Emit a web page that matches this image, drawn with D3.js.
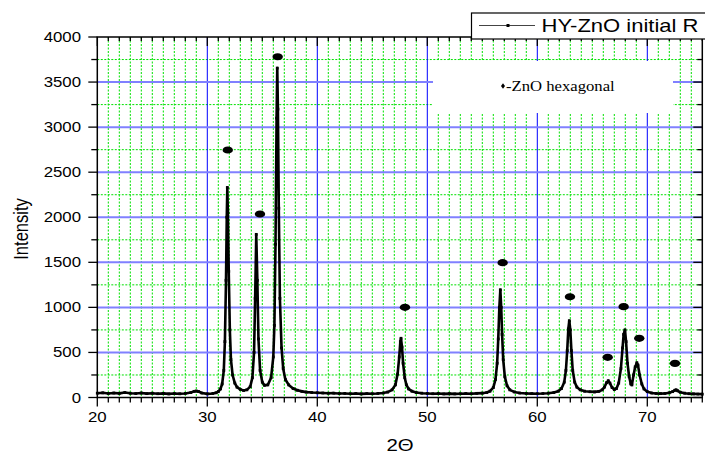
<!DOCTYPE html>
<html lang="en">
<head>
  <meta charset="UTF-8">
  <title>HY-ZnO initial R</title>
  <script src='https://d3js.org/d3.v7.min.js'></script>
  <style>
    body { margin: 0; background: #fff; }
    text { font-family: Arial, "Liberation Sans", sans-serif; fill: #000; }
  </style>
</head>
<body>
<script>
  // XRD pattern (2 theta, intensity)
  const twoTheta = [
    20.0, 20.5, 21.0, 21.5, 22.0, 22.5, 23.0, 23.5, 24.0, 24.5, 25.0, 25.5, 26.0, 26.5, 27.0, 27.5,
    28.0, 28.5, 28.8, 29.0, 29.2, 29.5, 30.0, 30.5, 30.8, 31.0, 31.2, 31.35, 31.5, 31.6, 31.7, 31.77,
    31.82, 31.87, 31.95, 32.05, 32.15, 32.3, 32.5, 32.7, 33.0, 33.3, 33.6, 33.9, 34.1, 34.25, 34.35, 34.45,
    34.55, 34.65, 34.8, 35.0, 35.2, 35.5, 35.8, 36.0, 36.1, 36.2, 36.3, 36.36, 36.42, 36.5, 36.6, 36.75,
    36.9, 37.1, 37.4, 37.8, 38.2, 38.6, 39.0, 39.5, 40.0, 40.5, 41.0, 41.5, 42.0, 42.5, 43.0, 43.5,
    44.0, 44.5, 45.0, 45.5, 46.0, 46.4, 46.8, 47.1, 47.3, 47.45, 47.55, 47.61, 47.7, 47.8, 47.95, 48.1,
    48.3, 48.6, 49.0, 49.5, 50.0, 50.5, 51.0, 51.5, 52.0, 52.5, 53.0, 53.5, 54.0, 54.5, 55.0, 55.4,
    55.7, 56.0, 56.2, 56.35, 56.45, 56.55, 56.64, 56.72, 56.8, 56.9, 57.05, 57.25, 57.5, 57.9, 58.4, 59.0,
    59.5, 60.0, 60.5, 61.0, 61.5, 61.9, 62.2, 62.45, 62.6, 62.72, 62.82, 62.91, 63.0, 63.1, 63.22, 63.4,
    63.6, 63.9, 64.3, 64.8, 65.2, 65.6, 65.9, 66.1, 66.3, 66.45, 66.6, 66.8, 67.0, 67.2, 67.4, 67.6,
    67.75, 67.85, 67.97, 68.07, 68.2, 68.35, 68.5, 68.6, 68.75, 68.9, 69.05, 69.15, 69.3, 69.5, 69.7, 70.0,
    70.4, 70.8, 71.2, 71.6, 72.0, 72.3, 72.5, 72.62, 72.75, 73.0, 73.4, 73.8, 74.2, 74.6, 75.0
  ];
  const intensity = [
    48, 52, 45, 50, 46, 55, 47, 44, 50, 43, 48, 42, 46, 40, 44, 41,
    45, 55, 68, 72, 66, 50, 40, 45, 52, 65, 95, 150, 300, 620, 1300, 2000,
    2330, 2050, 1400, 750, 420, 250, 160, 115, 90, 78, 85, 120, 220, 500, 1100, 1810,
    1300, 650, 300, 170, 135, 140, 220, 450, 800, 1700, 3100, 3655, 3200, 2100, 1100, 550,
    320, 200, 140, 100, 80, 68, 60, 55, 52, 50, 47, 48, 44, 45, 42, 44,
    40, 43, 42, 45, 50, 60, 85, 140, 260, 450, 620, 657, 560, 380, 220, 140,
    95, 70, 55, 48, 45, 42, 44, 40, 43, 40, 42, 44, 42, 46, 48, 55,
    70, 110, 200, 380, 650, 1000, 1195, 1000, 700, 420, 230, 130, 85, 62, 50, 45,
    43, 42, 44, 48, 55, 70, 100, 170, 300, 520, 760, 852, 750, 520, 300, 170,
    115, 85, 70, 64, 62, 68, 85, 115, 165, 186, 160, 110, 88, 100, 160, 320,
    550, 700, 750, 620, 380, 230, 150, 140, 250, 340, 386, 360, 250, 150, 95, 65,
    50, 45, 43, 45, 52, 65, 80, 85, 75, 58, 48, 42, 40, 38, 37
  ];

  // peak markers (ZnO hexagonal)
  const markX = [31.86, 34.79, 36.4, 47.97, 56.85, 62.97, 66.4, 67.85, 69.27, 72.52];
  const markY = [2746, 2036, 3781, 1001, 1496, 1118, 446, 1008, 657, 379];

  const xMajor = [20, 30, 40, 50, 60, 70];
  const yMajor = [0, 500, 1000, 1500, 2000, 2500, 3000, 3500, 4000];
  const xMinor = d3.range(20, 76, 1);
  const yMinor = d3.range(0, 4001, 250);

  const seriesName = "HY-ZnO initial R";
  const noteText = "-ZnO hexagonal";

  const width = 705, height = 455;
  const sx = 1.2; // the text in the picture is stretched sideways

  const x = d3.scaleLinear().domain([20, 75]).range([97.3, 702.3]);
  const y = d3.scaleLinear().domain([0, 4000]).range([397.5, 37]);

  const svg = d3.select("body").append("svg")
    .attr("width", width)
    .attr("height", height);

  function label(px, py, txt, size, anchor, scale, extra) {
    return svg.append("text")
      .attr("transform", "translate(" + px + "," + py + ") scale(" + scale + ",1)" + (extra || ""))
      .attr("text-anchor", anchor)
      .attr("font-size", size)
      .text(txt);
  }

  // minor grid (green dotted)
  svg.append("g").selectAll("line")
    .data(xMinor.filter(d => d % 10 !== 0 && d < 75))
    .join("line")
    .attr("x1", d => x(d)).attr("x2", d => x(d))
    .attr("y1", y(4000)).attr("y2", y(0))
    .attr("stroke", "#00e000").attr("stroke-width", 1)
    .attr("stroke-dasharray", "2,1.5");
  svg.append("g").selectAll("line")
    .data(yMinor.filter(d => d % 500 !== 0))
    .join("line")
    .attr("x1", x(20)).attr("x2", x(75))
    .attr("y1", d => y(d)).attr("y2", d => y(d))
    .attr("stroke", "#00e000").attr("stroke-width", 1)
    .attr("stroke-dasharray", "2,1.5");

  // major grid (blue)
  svg.append("g").selectAll("line")
    .data(xMajor.filter(d => d > 20))
    .join("line")
    .attr("x1", d => x(d)).attr("x2", d => x(d))
    .attr("y1", y(4000)).attr("y2", y(0))
    .attr("stroke", "#0000ff").attr("stroke-width", 1);
  svg.append("g").selectAll("line")
    .data(yMajor.filter(d => d > 0 && d < 4000))
    .join("line")
    .attr("x1", x(20)).attr("x2", x(75))
    .attr("y1", d => y(d)).attr("y2", d => y(d))
    .attr("stroke", "#8080ff").attr("stroke-width", 2);

  // white note box over the grid
  svg.append("rect")
    .attr("x", 433).attr("y", 61)
    .attr("width", 240).attr("height", 52)
    .attr("fill", "#fff");

  // frame
  svg.append("rect")
    .attr("x", x(20)).attr("y", y(4000))
    .attr("width", x(75) - x(20)).attr("height", y(0) - y(4000))
    .attr("fill", "none").attr("stroke", "#000").attr("stroke-width", 1.5);

  // ticks
  const ticks = svg.append("g").attr("stroke", "#000").attr("stroke-width", 1.3);
  xMinor.forEach(d => {
    const len = d % 10 === 0 ? 9 : 5;
    ticks.append("line").attr("x1", x(d)).attr("x2", x(d)).attr("y1", y(0)).attr("y2", y(0) + len);
    ticks.append("line").attr("x1", x(d)).attr("x2", x(d)).attr("y1", y(4000)).attr("y2", y(4000) + (d % 10 === 0 ? 9 : 4));
  });
  yMinor.forEach(d => {
    const major = d % 500 === 0;
    ticks.append("line").attr("x1", x(20) - (major ? 9 : 6)).attr("x2", x(20)).attr("y1", y(d)).attr("y2", y(d));
    ticks.append("line").attr("x1", x(75) - (major ? 9 : 5)).attr("x2", x(75)).attr("y1", y(d)).attr("y2", y(d));
  });

  // tick labels
  yMajor.forEach(d => label(81, y(d) + 5, d, 14, "end", sx));
  xMajor.forEach(d => label(x(d), 422, d, 14, "middle", sx));

  // axis titles
  label(400, 451, "2\u0398", 17, "middle", sx);
  label(28, 229, "Intensity", 16.5, "middle", sx, " rotate(-90)");

  // data line
  const pts = twoTheta.map((t, i) => [t, intensity[i]]);
  svg.append("path")
    .datum(pts)
    .attr("fill", "none")
    .attr("stroke", "#000")
    .attr("stroke-width", 2.6)
    .attr("stroke-linejoin", "round")
    .attr("d", d3.line().x(d => x(d[0])).y(d => y(d[1])));
  svg.append("g").selectAll("rect")
    .data(pts)
    .join("rect")
    .attr("x", d => x(d[0]) - 1.4).attr("y", d => y(d[1]) - 1.4)
    .attr("width", 2.8).attr("height", 2.8)
    .attr("fill", "#000");

  // peak markers
  svg.append("g").selectAll("ellipse")
    .data(markX.map((m, i) => [m, markY[i]]))
    .join("ellipse")
    .attr("cx", d => x(d[0])).attr("cy", d => y(d[1]))
    .attr("rx", 5.2).attr("ry", 3.6)
    .attr("fill", "#000");

  // note text
  svg.append("path")
    .attr("d", d3.symbol(d3.symbolDiamond, 14)())
    .attr("transform", "translate(503,86) scale(1,0.8)")
    .attr("fill", "#000");
  label(506, 91, noteText, 14.5, "start", 1.15)
    .style("font-family", "'Liberation Serif', 'Times New Roman', serif");

  // legend
  svg.append("rect")
    .attr("x", 471.5).attr("y", 13)
    .attr("width", 240).attr("height", 26)
    .attr("fill", "#fff").attr("stroke", "#000").attr("stroke-width", 1.2);
  svg.append("line")
    .attr("x1", 479).attr("x2", 535).attr("y1", 25.5).attr("y2", 25.5)
    .attr("stroke", "#444").attr("stroke-width", 1.2);
  svg.append("rect")
    .attr("x", 506.5).attr("y", 24).attr("width", 3).attr("height", 3)
    .attr("fill", "#000");
  label(541.5, 31.7, seriesName, 18.5, "start", 1.19);
</script>
</body>
</html>
